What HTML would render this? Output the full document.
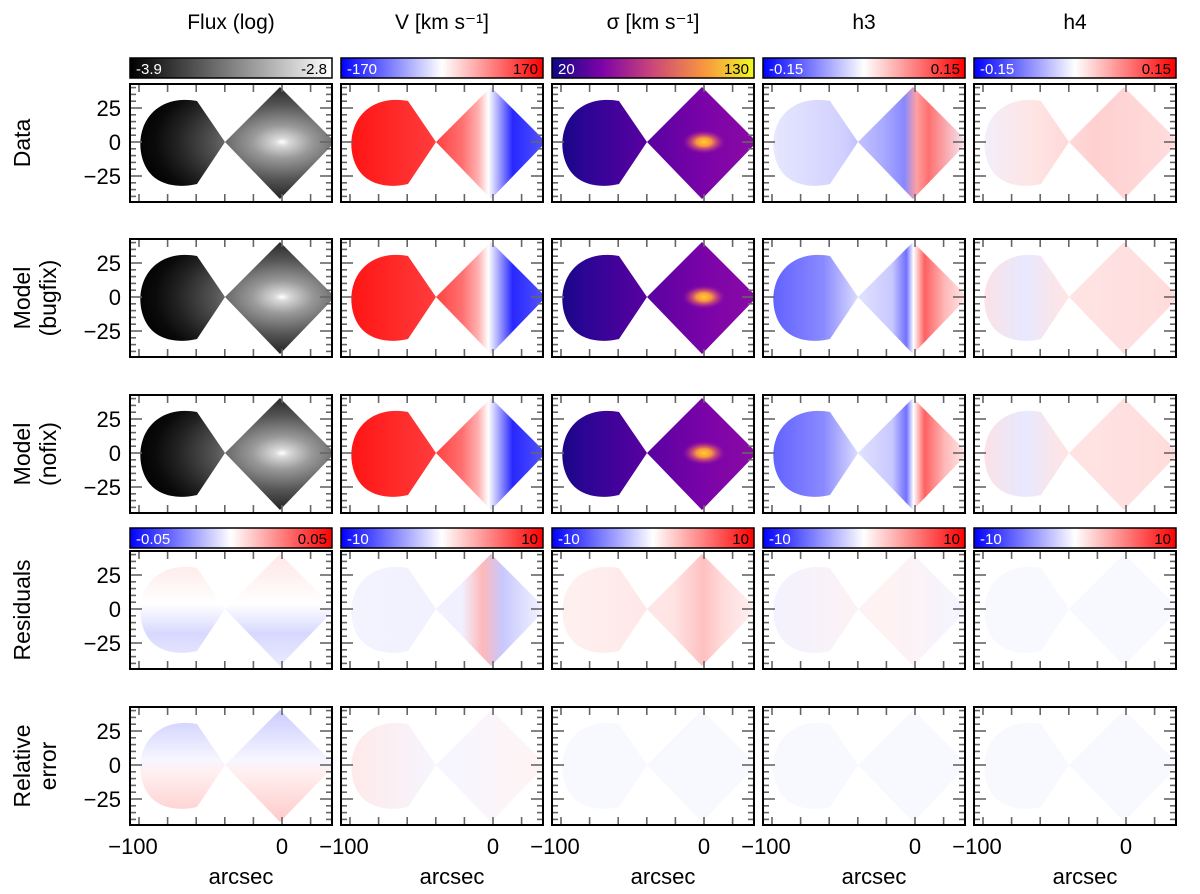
<!DOCTYPE html>
<html><head><meta charset="utf-8"><style>
html,body{margin:0;padding:0;background:#fff;}
svg{display:block;font-family:"Liberation Sans","DejaVu Sans",sans-serif;}
</style></head><body>
<svg id="fig" width="1200" height="894" viewBox="0 0 1200 894" xmlns="http://www.w3.org/2000/svg">
<defs id="defs"></defs>
</svg>
<script>
const colTitles=["Flux (log)","V [km s\u207B\u00B9]","\u03C3 [km s\u207B\u00B9]","h3","h4"];
const rowLabels=[["Data"],["Model","(bugfix)"],["Model","(nofix)"],["Residuals"],["Relative","error"]];
const cbTop=[["-3.9","-2.8"],["-170","170"],["20","130"],["-0.15","0.15"],["-0.15","0.15"]];
const cbRes=[["-0.05","0.05"],["-10","10"],["-10","10"],["-10","10"],["-10","10"]];
const yTicks=[25,0,-25];
const xTickLabels=[-100,0];
const xMajor=[-100,-80,-60,-40,-20,0,20];

const NS="http://www.w3.org/2000/svg";
const svg=document.getElementById('fig'),defs=document.getElementById('defs');
const colX=[130,341,552,763,974],rowY=[84,239,395,551,707],PW=202,PH=118;
const sx=x=>152+x*1.43, sy=y=>58-y*1.36;
function el(t,a,p){const e=document.createElementNS(NS,t);for(const k in a)e.setAttribute(k,a[k]);(p||svg).appendChild(e);return e;}
function lin(id,stops,vert,user){
 const a=user?{id:id,gradientUnits:'userSpaceOnUse',x1:0,y1:0,x2:vert?0:PW,y2:vert?PH:0}:{id:id,x1:0,y1:0,x2:vert?0:1,y2:vert?1:0};
 const g=el('linearGradient',a,defs);stops.forEach(s=>el('stop',{offset:s[0],'stop-color':s[1],'stop-opacity':s[2]==null?1:s[2]},g));}
function rad(id,cx,cy,r,sy_,stops){const g=el('radialGradient',{id:id,gradientUnits:'userSpaceOnUse',cx:cx,cy:cy,r:r,gradientTransform:`translate(0 ${cy}) scale(1 ${sy_}) translate(0 ${-cy})`},defs);stops.forEach(s=>el('stop',{offset:s[0],'stop-color':s[1],'stop-opacity':s[2]==null?1:s[2]},g));}
// colorbar gradients
lin('cb-gray',[[0,'#000'],[1,'#fff']]);
lin('cb-bwr',[[0,'#0000ff'],[0.5,'#fff'],[1,'#ff0000']]);
lin('cb-plasma',[[0,'#0d0887'],[0.25,'#7e03a8'],[0.5,'#cc4778'],[0.75,'#f89540'],[1,'#f0f921']]);
// map fills (panel-space)
rad('g-flux',152,58,150,0.55,[[0,'#fff'],[0.05,'#d8d8d8'],[0.2,'#999'],[0.45,'#555'],[0.7,'#222'],[0.85,'#0a0a0a'],[1,'#000']]);
lin('g-vel',[[0,'#ff1010'],[0.45,'#ff3a3a'],[0.6,'#ff7070'],[0.68,'#ffb0b0'],[0.73,'#fff'],[0.77,'#b8b8ff'],[0.85,'#2828ff'],[1,'#5050ff']],false,true);
lin('g-sig',[[0,'#10067f'],[0.15,'#2a0593'],[0.45,'#56019f'],[0.75,'#7a03a8'],[1,'#8a0aa5']],false,true);
rad('g-sigc',152,58,22,0.55,[[0,'#fdd02a'],[0.35,'#f89540'],[0.7,'#c04080',0.6],[1,'#8a0aa5',0]]);
lin('g-h3m',[[0,'#5a5aff'],[0.3,'#8a8aff'],[0.48,'#e0e0ff'],[0.64,'#c8c8ff'],[0.71,'#7070ff'],[0.745,'#fff'],[0.8,'#ff6060'],[0.9,'#ffb8b8'],[1,'#ffe6e6']],false,true);
lin('g-h3d',[[0,'#eaeaff'],[0.4,'#d0d0ff'],[0.6,'#a8a8ff'],[0.7,'#8888ff'],[0.76,'#ffa0a0'],[0.82,'#ff7070'],[1,'#f4e8f4']],false,true);
lin('g-h4m',[[0,'#ffe0e0'],[0.25,'#e8e8ff'],[0.45,'#ffe4e4'],[1,'#ffdcdc']],false,true);
lin('g-h4d',[[0,'#f0f0ff'],[0.3,'#ffe4e4'],[0.6,'#ffd0d0'],[1,'#ffdcdc']],false,true);
lin('g-rflux',[[0,'#ffe4e4'],[0.45,'#fff'],[0.7,'#d8d8ff'],[1,'#ececff']],true,true);
lin('g-rvel',[[0,'#f4f4ff'],[0.6,'#f0f0ff'],[0.7,'#ffb8b8'],[0.8,'#c8c8ff'],[1,'#f4f4ff']],false,true);
lin('g-rsig',[[0,'#fff2f2'],[0.6,'#ffe4e4'],[0.75,'#ffc0c0'],[0.85,'#ffdcdc'],[1,'#fff0f0']],false,true);
lin('g-rh3',[[0,'#f2f2ff'],[0.6,'#fff2f2'],[1,'#f4f4ff']],false,true);
lin('g-rh4',[[0,'#f8f8ff'],[1,'#f8f8ff']],false,true);
lin('g-eflux',[[0,'#c8c8ff'],[0.45,'#f6f6ff'],[0.55,'#fff0f0'],[1,'#ffc8c8']],true,true);
lin('g-evel',[[0,'#ffe8e8'],[0.5,'#f6f6ff'],[1,'#fff4f4']],false,true);
lin('g-efaint',[[0,'#f8f8ff'],[1,'#f8f8ff']],false,true);

const fills=[
 ['g-flux','g-vel','g-sig','g-h3d','g-h4d'],
 ['g-flux','g-vel','g-sig','g-h3m','g-h4m'],
 ['g-flux','g-vel','g-sig','g-h3m','g-h4m'],
 ['g-rflux','g-rvel','g-rsig','g-rh3','g-rh4'],
 ['g-eflux','g-evel','g-efaint','g-efaint','g-efaint']];
const shapeD="M95,58 L67,17 C40,12 20,24 13,44 C8,58 10,76 19,88 C30,102 50,104 67,100 Z M95,58 L150,3 L205,58 L150,115 Z";
el('clipPath',{id:'pclip'},defs);
el('rect',{x:0,y:0,width:PW,height:PH},defs.lastChild);

colTitles.forEach((t,c)=>{const e=el('text',{x:colX[c]+PW/2,y:29,'font-size':21,'text-anchor':'middle',fill:'#000'});e.textContent=t;

});

function colorbar(x,y,grad,labels){
 const g=el('g',{});
 
 
 el('rect',{x:x,y:y,width:PW,height:20,fill:`url(#${grad})`,stroke:'#000','stroke-width':1.5},g);
 const a=el('text',{x:x+6,y:y+16,'font-size':15,fill:'#fff'},g);a.textContent=labels[0];
 const b=el('text',{x:x+PW-5,y:y+16,'font-size':15,fill:'#000','text-anchor':'end'},g);b.textContent=labels[1];
}
const cbGr=['cb-gray','cb-bwr','cb-plasma','cb-bwr','cb-bwr'];
for(let c=0;c<5;c++){colorbar(colX[c],58,cbGr[c],cbTop[c]);colorbar(colX[c],528,'cb-bwr',cbRes[c]);}

for(let r=0;r<5;r++){
 const lines=rowLabels[r];
 const cy=rowY[r]+PH/2;
 lines.forEach((t,i)=>{const lx=lines.length==1?30:(i==0?30:56);
  const e=el('text',{x:lx,y:cy,'font-size':23,'text-anchor':'middle',transform:`rotate(-90 ${lx} ${cy})`});e.textContent=t;
  
  });
 yTicks.forEach(v=>{const e=el('text',{x:121,y:rowY[r]+sy(v)+8,'font-size':22,'text-anchor':'end'});e.textContent=(v<0?'\u2212':'')+Math.abs(v);
  
  });
 for(let c=0;c<5;c++){
  const g=el('g',{transform:`translate(${colX[c]},${rowY[r]})`});
  
  
  const cg=el('g',{'clip-path':'url(#pclip)'},g);
  el('path',{d:shapeD,fill:`url(#${fills[r][c]})`},cg);
  if(fills[r][c]==='g-sig') el('path',{d:shapeD,fill:'url(#g-sigc)'},cg);
  const tk={stroke:'#666','stroke-width':1.6};
  xMajor.forEach(v=>{const x=sx(v);if(x<2||x>PW-2)return;
   el('line',Object.assign({x1:x,y1:0,x2:x,y2:8},tk),g);el('line',Object.assign({x1:x,y1:PH,x2:x,y2:PH-8},tk),g);});
  for(let v=-40;v<=40;v+=5){const y=sy(v);if(y<2||y>PH-2)continue;const L=(v%25===0)?12:6;
   el('line',Object.assign({x1:0,y1:y,x2:L,y2:y},tk),g);el('line',Object.assign({x1:PW,y1:y,x2:PW-L,y2:y},tk),g);}
  el('rect',{x:0,y:0,width:PW,height:PH,fill:'none',stroke:'#000','stroke-width':2},g);
 }
}
for(let c=0;c<5;c++){
 xTickLabels.forEach(v=>{const e=el('text',{x:colX[c]+sx(v)+(v<0?-6:0),y:rowY[4]+PH+29,'font-size':22,'text-anchor':'middle'});e.textContent=(v<0?'\u2212':'')+Math.abs(v);
  
  });
 const t=el('text',{x:colX[c]+PW/2+10,y:884,'font-size':22,'text-anchor':'middle'});t.textContent='arcsec';
 
 
}
</script>
</body></html>
